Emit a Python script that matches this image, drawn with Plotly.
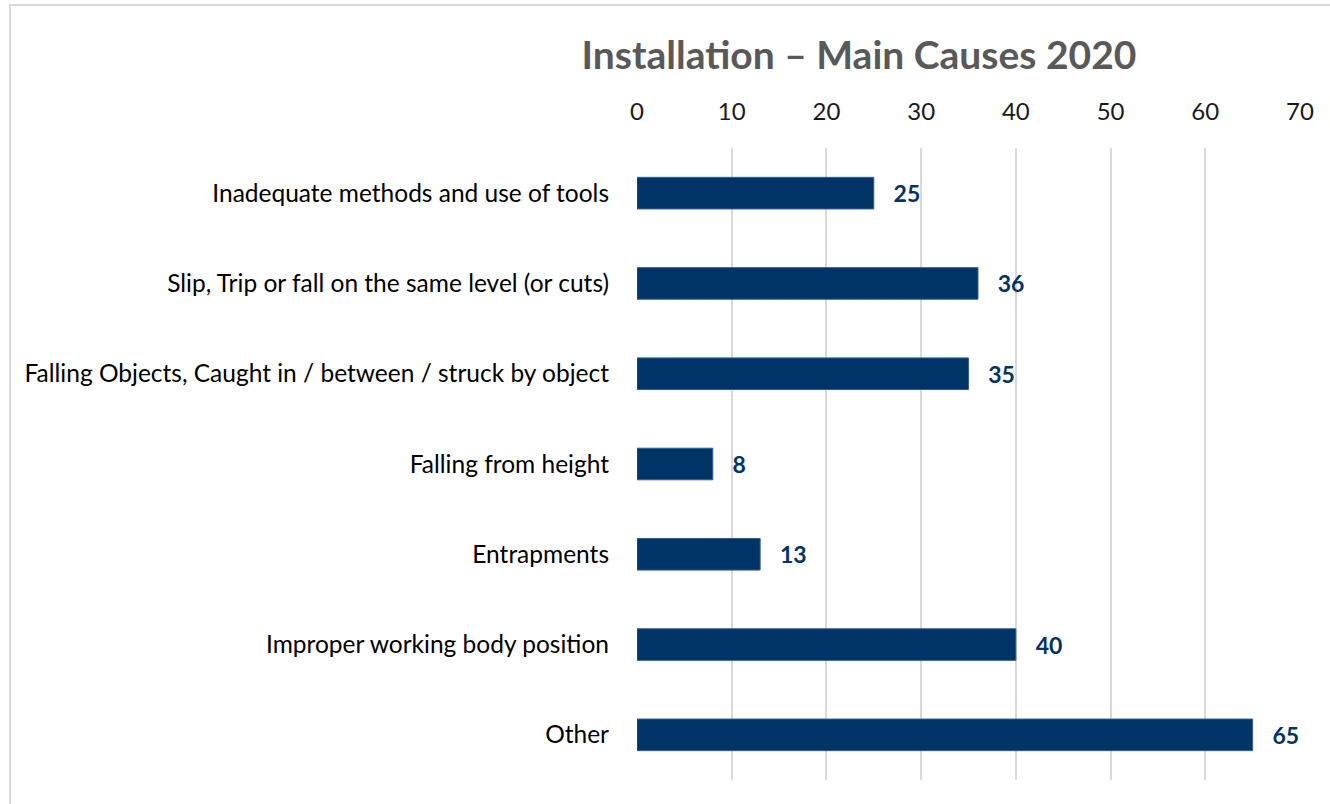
import plotly.graph_objects as go

categories = [
    "Inadequate methods and use of tools",
    "Slip, Trip or fall on the same level (or cuts)",
    "Falling Objects, Caught in / between / struck by object",
    "Falling from height",
    "Entrapments",
    "Improper working body position",
    "Other",
]
values = [25, 36, 35, 8, 13, 40, 65]
tick_vals = [0, 10, 20, 30, 40, 50, 60, 70]

NAVY = "#003366"
FONT = "Lato"

fig = go.Figure()
fig.add_trace(go.Bar(
    y=categories,
    x=values,
    orientation="h",
    marker=dict(color=NAVY, line=dict(color="#2f5f8f", width=1)),
    texttemplate="   %{x}",
    textposition="outside",
    textfont=dict(family=FONT, size=23, color=NAVY, weight="bold"),
    cliponaxis=False,
    width=0.35,
))

L, R, T, B = 637, 30, 148, 24
W, H = 1330, 804
pw, ph = W - L - R, H - T - B

fig.update_layout(
    width=W, height=H,
    margin=dict(l=L, r=R, t=T, b=B, autoexpand=False),
    paper_bgcolor="white",
    plot_bgcolor="white",
    showlegend=False,
    title=dict(
        text="<b>Installation – Main Causes 2020</b>",
        x=859 / W, xanchor="center",
        y=1 - 55 / H, yanchor="middle",
        font=dict(family=FONT, size=39, color="#595959"),
    ),
    xaxis=dict(
        side="top",
        range=[0, 70],
        tickvals=tick_vals,
        showgrid=True,
        gridcolor="#d9d9d9",
        gridwidth=2,
        zeroline=False,
        showline=False,
        ticks="",
        ticklabelstandoff=22,
        tickfont=dict(family=FONT, size=24, color="#1a1a1a"),
    ),
    yaxis=dict(
        categoryorder="array",
        categoryarray=categories[::-1],
        showgrid=False,
        zeroline=False,
        showline=False,
        ticks="",
        ticklabelstandoff=27,
        tickfont=dict(family=FONT, size=24.5, color="#000000"),
    ),
    shapes=[dict(
        type="rect", xref="paper", yref="paper",
        x0=(10 - L) / pw, x1=(1400 - L) / pw,
        y0=(H - B - 900) / ph, y1=(H - B - 5) / ph,
        line=dict(color="#d9d9d9", width=2),
        fillcolor="rgba(0,0,0,0)",
        layer="below",
    )],
)

fig.write_html(
    "out.html",
    config={"displayModeBar": False},
    post_script="document.body.style.margin='0';",
)
